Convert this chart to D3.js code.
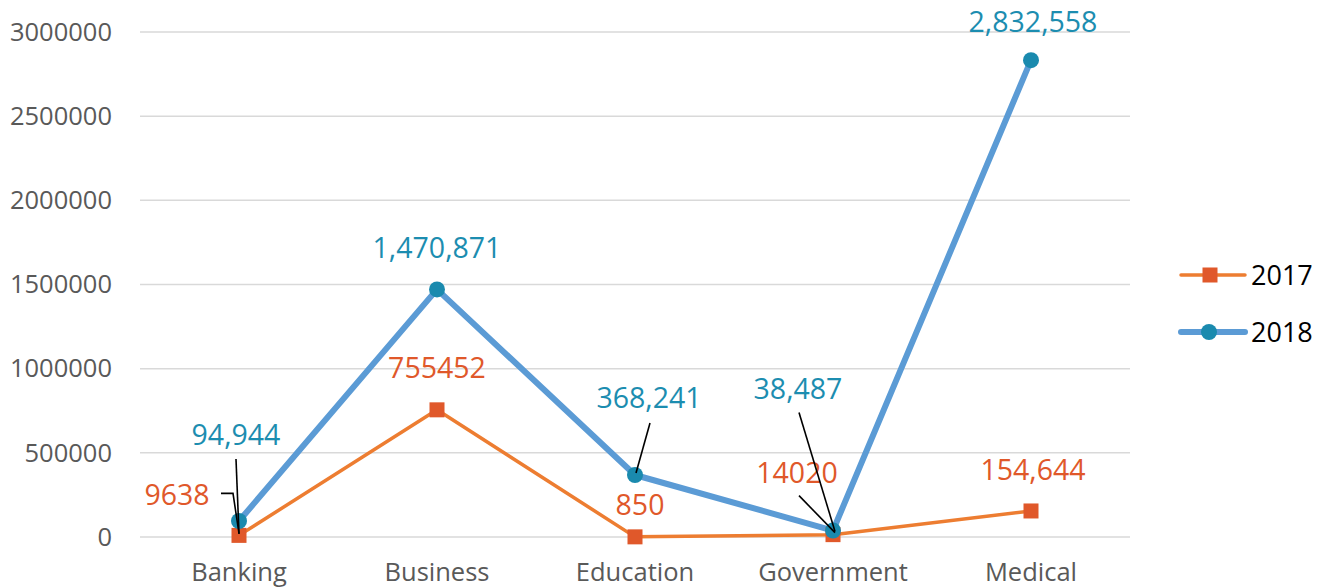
<!DOCTYPE html>
<html>
<head>
<meta charset="utf-8">
<script src="https://cdn.jsdelivr.net/npm/d3@7/dist/d3.min.js"></script>
<style>
  html, body { margin: 0; padding: 0; background: #ffffff; }
  svg { display: block; font-family: "Open Sans", sans-serif; }
</style>
</head>
<body>
<svg id="chart" width="1332" height="588"></svg>
<script>
// ---- data ----
const categories = ["Banking", "Business", "Education", "Government", "Medical"];
const values2017 = [9638, 755452, 850, 14020, 154644];
const values2018 = [94944, 1470871, 368241, 38487, 2832558];
const labels2017 = ["9638", "755452", "850", "14020", "154,644"];
const labels2018 = ["94,944", "1,470,871", "368,241", "38,487", "2,832,558"];
const yTicks = [0, 500000, 1000000, 1500000, 2000000, 2500000, 3000000];
const seriesNames = ["2017", "2018"];

// ---- layout ----
const svg = d3.select("#chart");
const plot = { left: 140, right: 1130, top: 32, bottom: 537 };
const x = d3.scaleBand().domain(categories).range([plot.left, plot.right]).paddingInner(0).paddingOuter(0);
const cx = c => x(c) + x.bandwidth() / 2;
const y = d3.scaleLinear().domain([0, 3000000]).range([plot.bottom, plot.top]);

const col = {
  line17: "#ED7D31", mark17: "#E0582A", text17: "#E0582A",
  line18: "#5B9BD5", mark18: "#1A8AAE", text18: "#1C8DB0",
  grid: "#D9D9D9", axisText: "#595959"
};

// gridlines
svg.append("g").selectAll("line").data(yTicks).join("line")
  .attr("x1", plot.left).attr("x2", plot.right)
  .attr("y1", d => y(d)).attr("y2", d => y(d))
  .attr("stroke", col.grid).attr("stroke-width", 1.5);

// y axis labels via d3 axis
const yAxis = d3.axisLeft(y).tickValues(yTicks).tickFormat(d3.format("d")).tickSize(0).tickPadding(0);
const gy = svg.append("g").attr("transform", "translate(112,0)").call(yAxis);
gy.select(".domain").remove();
gy.selectAll("text").attr("fill", col.axisText).attr("font-size", 25.5)
  .attr("font-family", "Open Sans, sans-serif");

// x axis labels via d3 axis
const xAxis = d3.axisBottom(x).tickSize(0).tickPadding(0);
const gx = svg.append("g").attr("transform", `translate(0,${plot.bottom})`).call(xAxis);
gx.select(".domain").remove();
gx.selectAll("text").attr("fill", col.axisText).attr("font-size", 25.5)
  .attr("font-family", "Open Sans, sans-serif").attr("dy", null).attr("y", 44);

// lines
const lineGen = vals => d3.line().x((d, i) => cx(categories[i])).y(d => y(d))(vals);
svg.append("path").attr("d", lineGen(values2017)).attr("fill", "none")
  .attr("stroke", col.line17).attr("stroke-width", 3.5).attr("stroke-linejoin", "round");
svg.append("path").attr("d", lineGen(values2018)).attr("fill", "none")
  .attr("stroke", col.line18).attr("stroke-width", 6).attr("stroke-linejoin", "round");

// markers
const sq = 15;
svg.append("g").selectAll("rect").data(values2017).join("rect")
  .attr("x", (d, i) => cx(categories[i]) - sq / 2).attr("y", d => y(d) - sq / 2)
  .attr("width", sq).attr("height", sq).attr("fill", col.mark17);
svg.append("g").selectAll("circle").data(values2018).join("circle")
  .attr("cx", (d, i) => cx(categories[i])).attr("cy", d => y(d)).attr("r", 8)
  .attr("fill", col.mark18);

// data labels (offsets relative to each point: dx, baseline dy)
const off17 = [[-62, -30], [0, -32], [5, -22], [-36, -52], [2, -31]];
const off18 = [[-3, -76], [0, -31], [14, -67], [-35, -132], [2, -28]];
const lbl = (vals, labels, offs, color) => {
  svg.append("g").selectAll("text").data(vals).join("text")
    .attr("x", (d, i) => cx(categories[i]) + offs[i][0])
    .attr("y", (d, i) => y(d) + offs[i][1])
    .attr("text-anchor", "middle").attr("font-size", 28.5).attr("fill", color)
    .text((d, i) => labels[i]);
};
lbl(values2017, labels2017, off17, col.text17);
lbl(values2018, labels2018, off18, col.text18);

// leader lines (from label to point)
const leader = svg.append("g").attr("fill", "none").attr("stroke", "#000").attr("stroke-width", 1.6);
const pt = (s, i) => [cx(categories[i]), y((s === 0 ? values2017 : values2018)[i])];
// Banking 2018
(() => { const [px, py] = pt(1, 0); leader.append("path").attr("d", `M${px - 3},${py - 62} L${px},${py + 13}`); })();
// Banking 2017
(() => { const [px, py] = pt(0, 0); leader.append("path").attr("d", `M${px - 18},${py - 42} L${px - 6},${py - 42} L${px},${py - 2}`); })();
// Education 2018
(() => { const [px, py] = pt(1, 2); leader.append("path").attr("d", `M${px + 15},${py - 52} L${px + 1},${py - 2}`); })();
// Government 2018
(() => { const [px, py] = pt(1, 3); leader.append("path").attr("d", `M${px - 34},${py - 118} L${px + 2},${py + 1}`); })();
// Government 2017
(() => { const [px, py] = pt(0, 3); leader.append("path").attr("d", `M${px - 34},${py - 39} L${px + 2},${py - 2}`); })();

// legend
const legend = svg.append("g");
const legY = [275, 332];
legend.append("line").attr("x1", 1181).attr("x2", 1245).attr("y1", legY[0]).attr("y2", legY[0])
  .attr("stroke", col.line17).attr("stroke-width", 3.5).attr("stroke-linecap", "round");
legend.append("rect").attr("x", 1210 - sq / 2).attr("y", legY[0] - sq / 2).attr("width", sq).attr("height", sq)
  .attr("fill", col.mark17);
legend.append("line").attr("x1", 1181).attr("x2", 1245).attr("y1", legY[1]).attr("y2", legY[1])
  .attr("stroke", col.line18).attr("stroke-width", 6).attr("stroke-linecap", "round");
legend.append("circle").attr("cx", 1209).attr("cy", legY[1]).attr("r", 8).attr("fill", col.mark18);
legend.selectAll("text").data(seriesNames).join("text")
  .attr("x", 1251).attr("y", (d, i) => legY[i] + 10)
  .attr("font-size", 27).attr("fill", "#000").text(d => d);
</script>
</body>
</html>
